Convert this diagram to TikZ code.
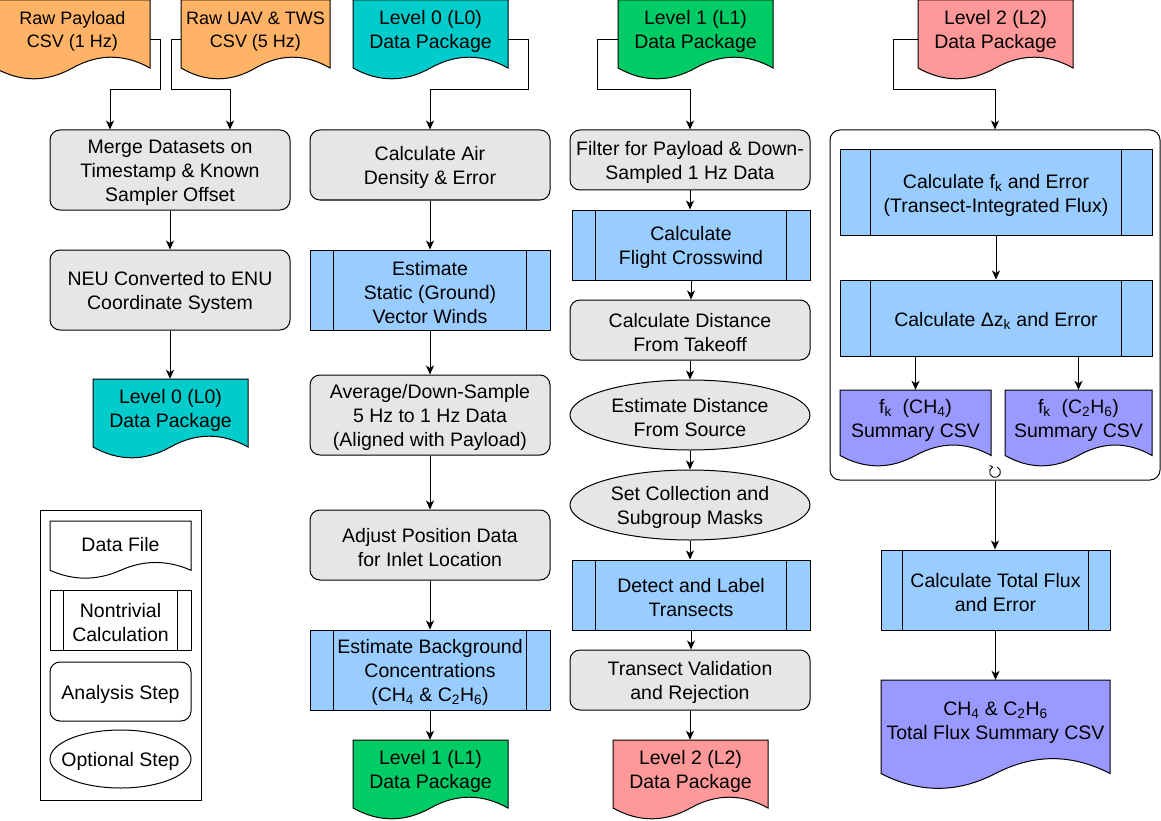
\documentclass[tikz,border=0pt]{standalone}
\usepackage{fontspec}
\setmainfont{Liberation Sans}
\usetikzlibrary{arrows.meta,shapes.geometric}
\definecolor{cOrange}{HTML}{FFB366}
\definecolor{cCyan}{HTML}{00CCCC}
\definecolor{cGreen}{HTML}{00CC66}
\definecolor{cPink}{HTML}{FF9999}
\definecolor{cBlue}{HTML}{99CCFF}
\definecolor{cGray}{HTML}{E6E6E6}
\definecolor{cPurple}{HTML}{9999FF}
\tikzset{
 base/.style={font=\fontsize{19.5}{24}\selectfont, align=center, inner sep=0pt, text=black},
 smallbase/.style={base, font=\fontsize{18}{23}\selectfont},
 shapebase/.style={inner sep=0pt, line width=1pt, draw},
 stepbox/.style={shapebase, rectangle, rounded corners=10pt, fill=cGray},
 procbox/.style={shapebase, rectangle, fill=cBlue},
 optbox/.style={shapebase, ellipse, fill=cGray},
 arr/.style={-{Stealth[length=9pt,width=8pt,inset=2.5pt]}, line width=1pt},
 docline/.style={draw, line width=1pt},
}
% #1 style, #2 name, #3 left, #4 top, #5 w, #6 h, #7 text
\newcommand\boxat[7]{%
 \node[#1, minimum width=#5pt, minimum height=#6pt] (#2) at ({#3+#5/2},{#4+#6/2}) {};
 \node[base] (#2-t) at ([yshift=-2.5pt]#2.center) {#7};}
% #1 name, #2 left, #3 top, #4 w, #5 h, #6 bar, #7 text  (fill via \procfill)
\newcommand\procfill{cBlue}
\newcommand\procat[7]{%
 \node[procbox, fill=\procfill, minimum width=#4pt, minimum height=#5pt] (#1) at ({#2+#4/2},{#3+#5/2}) {};
 \draw[line width=1pt] ([xshift=#6pt]#1.north west) -- ([xshift=#6pt]#1.south west)
   ([xshift=-#6pt]#1.north east) -- ([xshift=-#6pt]#1.south east);
 \node[base] (#1-t) at ([yshift=-2.5pt]#1.center) {#7};}
% #1 name, #2 left, #3 top, #4 w, #5 h, #6 fill, #7 text ; \docfont style
\newcommand\docfont{base}
\newcommand\docat[7]{%
 \filldraw[docline, fill=#6] (#2,#3) -- ({#2+#4},#3) -- ({#2+#4},{#3+0.85*#5})
  .. controls ({#2+0.8333*#4},{#3+0.67*#5}) and ({#2+0.6667*#4},{#3+0.67*#5}) .. ({#2+0.5*#4},{#3+0.85*#5})
  .. controls ({#2+0.3333*#4},{#3+1.03*#5}) and ({#2+0.1667*#4},{#3+1.03*#5}) .. (#2,{#3+0.85*#5}) -- cycle;
 \node[minimum width=#4pt, minimum height=#5pt, inner sep=0pt] (#1) at ({#2+#4/2},{#3+#5/2}) {};
 \node[\docfont] (#1-t) at ({#2+#4/2},{#3+0.37*#5+2}) {#7};}
\begin{document}
\begin{tikzpicture}[x=1pt,y=-1pt]
\useasboundingbox (0,0) rectangle (1161,821);
% ---------- column 1
\renewcommand\docfont{smallbase}
\docat{raw1}{-5}{0}{155}{80}{cOrange}{Raw Payload\\CSV (1 Hz)}
\docat{raw2}{181}{0}{149}{80}{cOrange}{Raw UAV \& TWS\\CSV (5 Hz)}
\renewcommand\docfont{base}
\boxat{stepbox}{merge}{50}{130}{240}{80}{Merge Datasets on\\Timestamp \& Known\\Sampler Offset}
\boxat{stepbox}{neu}{50}{250}{240}{80}{NEU Converted to ENU\\Coordinate System}
\docat{l0a}{93}{379}{155}{80}{cCyan}{Level 0 (L0)\\Data Package}
% legend
\node[draw, line width=1pt, minimum width=161pt, minimum height=290pt, inner sep=0pt] (legend) at (120.5,655) {};
\docat{lgdoc}{50}{521}{141}{58}{white}{Data File}
\renewcommand\procfill{white}
\procat{lgproc}{50}{590}{141}{60}{14}{Nontrivial\\Calculation}
\renewcommand\procfill{cBlue}
\boxat{stepbox,fill=white}{lgstep}{50}{662}{141}{59}{Analysis Step}
\boxat{optbox,fill=white}{lgopt}{50}{730}{141}{58}{Optional Step}
% ---------- column 2
\docat{l0top}{353}{0}{155}{80}{cCyan}{Level 0 (L0)\\Data Package}
\boxat{stepbox}{airden}{310}{130}{240}{70}{Calculate Air\\Density \& Error}
\procat{static}{310}{250}{240}{80}{24}{Estimate\\Static (Ground)\\Vector Winds}
\boxat{stepbox}{avg}{310}{375}{240}{80}{Average/Down-Sample\\5 Hz to 1 Hz Data\\(Aligned with Payload)}
\boxat{stepbox}{adjust}{310}{510}{240}{70}{Adjust Position Data\\for Inlet Location}
\procat{bg}{310}{630}{240}{80}{24}{Estimate Background\\Concentrations\\(CH\textsubscript{4} \& C\textsubscript{2}H\textsubscript{6})}
\docat{l1a}{353}{740}{155}{80}{cGreen}{Level 1 (L1)\\Data Package}
% ---------- column 3
\docat{l1top}{618}{0}{155}{80}{cGreen}{Level 1 (L1)\\Data Package}
\boxat{stepbox}{filter}{570}{130}{240}{60}{Filter for Payload \& Down-\\Sampled 1 Hz Data}
\procat{cross}{572}{210}{238}{70}{24}{Calculate\\Flight Crosswind}
\boxat{stepbox}{takeoff}{570}{300}{240}{60}{Calculate Distance\\From Takeoff}
\boxat{optbox}{source}{570}{380}{240}{70}{Estimate Distance\\From Source}
\boxat{optbox}{masks}{570}{470}{240}{70}{Set Collection and\\Subgroup Masks}
\procat{detect}{572}{560}{238}{70}{24}{Detect and Label\\Transects}
\boxat{stepbox}{valid}{570}{650}{240}{60}{Transect Validation\\and Rejection}
\docat{l2a}{613}{740}{155}{80}{cPink}{Level 2 (L2)\\Data Package}
% ---------- column 4
\docat{l2top}{918}{0}{155}{80}{cPink}{Level 2 (L2)\\Data Package}
\node[draw, rounded corners=10pt, line width=1pt, minimum width=330pt, minimum height=350pt, inner sep=0pt] (grp) at (995,305) {};
\procat{fk}{840}{150}{312}{85}{31}{Calculate f\textsubscript{k} and Error\\(Transect-Integrated Flux)}
\procat{dz}{840}{280}{312}{76}{31}{Calculate Δz\textsubscript{k} and Error}
\docat{ch4}{840}{390}{151}{77}{cPurple}{f\textsubscript{k}\ \ (CH\textsubscript{4})\\Summary CSV}
\docat{c2h6}{1005}{390}{147}{77}{cPurple}{f\textsubscript{k}\ \ (C\textsubscript{2}H\textsubscript{6})\\Summary CSV}
\procat{total}{881}{550}{229}{80}{22}{Calculate Total Flux\\and Error}
\docat{flux}{881}{680}{229}{110}{cPurple}{CH\textsubscript{4} \& C\textsubscript{2}H\textsubscript{6}\\Total Flux Summary CSV}
% ---------- connectors
\coordinate (b1) at (160,90);
\coordinate (b2) at (171,90);
\coordinate (b3) at (528,90);
\coordinate (b4) at (597,90);
\coordinate (b5) at (893,90);
\draw[arr] (raw1.east) -| (b1) -| ([xshift=-60pt]merge.north);
\draw[arr] (raw2.west) -| (b2) -| ([xshift=60pt]merge.north);
\draw[arr] (merge.south) -- (neu.north);
\draw[arr] (neu.south) -- (neu.south |- l0a.north);
\draw[arr] (l0top.east) -| (b3) -| (airden.north);
\draw[arr] (airden.south) -- (static.north);
\draw[arr] (static.south) -- (avg.north);
\draw[arr] (avg.south) -- (adjust.north);
\draw[arr] (adjust.south) -- (bg.north);
\draw[arr] (bg.south) -- (bg.south |- l1a.north);
\draw[arr] (l1top.west) -| (b4) -| (filter.north);
\draw[arr] (filter.south) -- (filter.south |- cross.north);
\draw[arr] (cross.south) -- (cross.south |- takeoff.north);
\draw[arr] (takeoff.south) -- (source.north);
\draw[arr] (source.south) -- (masks.north);
\draw[arr] (masks.south) -- (masks.south |- detect.north);
\draw[arr] (detect.south) -- (detect.south |- valid.north);
\draw[arr] (valid.south) -- (valid.south |- l2a.north);
\draw[arr] (l2top.west) -| (b5) -| (grp.north);
\draw[arr] (fk.south) -- (dz.north);
\draw[arr] (dz.south -| ch4.north) -- (ch4.north);
\draw[arr] (dz.south -| c2h6.north) -- (c2h6.north);
\draw[arr] (grp.south) -- (grp.south |- total.north);
\draw[arr] (total.south) -- (total.south |- flux.north);
% small loop marker on the group frame
\coordinate (loopc) at (995,472);
\draw[line width=0.9pt] ([shift={(115:5.5pt)}]loopc) arc[start angle=115, end angle=425, radius=5.5pt];
\draw[line width=0.9pt] ([shift={(115:5.5pt)}]loopc) -- ++(-3,-1.5);
\end{tikzpicture}
\end{document}
